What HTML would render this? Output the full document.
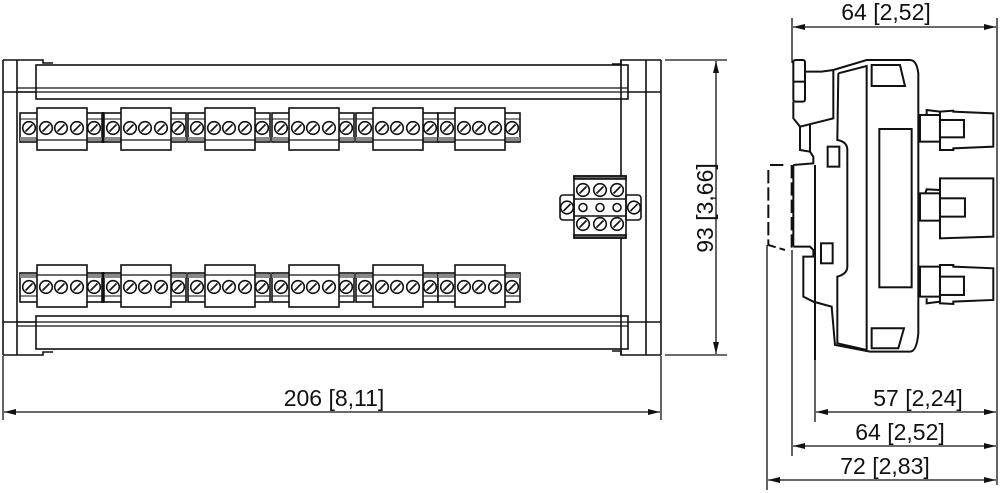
<!DOCTYPE html>
<html><head><meta charset="utf-8"><style>
html,body{margin:0;padding:0;background:#fff;width:1000px;height:493px;overflow:hidden}
svg{display:block}
text{font-family:"Liberation Sans",sans-serif;fill:#111}
</style></head><body>
<svg width="1000" height="493" viewBox="0 0 1000 493" xmlns="http://www.w3.org/2000/svg">
<defs>
<marker id="ar" viewBox="0 0 12 6" refX="12" refY="3" markerWidth="12" markerHeight="6" orient="auto-start-reverse" markerUnits="userSpaceOnUse"><path d="M0,0 L12,3 L0,6 z" fill="#111"/></marker>
<g id="scr"><circle r="6.3" fill="#fff" stroke="#111" stroke-width="1.6"/><line x1="-3.5" y1="3.5" x2="3.5" y2="-3.5" stroke="#111" stroke-width="1.6"/></g>
<g id="grpT">
 <rect x="0" y="113" width="82" height="29" fill="#fff" stroke="#111" stroke-width="1.6"/>
 <rect x="0" y="137" width="82" height="4" fill="#888"/>
 <line x1="0" y1="119" x2="82" y2="119" stroke="#111" stroke-width="1"/>
 <rect x="17" y="108" width="50" height="42" fill="#fff" stroke="#111" stroke-width="1.6"/>
 <line x1="17" y1="140" x2="67" y2="140" stroke="#111" stroke-width="1.2"/>
 <use href="#scr" x="9" y="128"/><use href="#scr" x="26" y="128"/><use href="#scr" x="41" y="128"/><use href="#scr" x="57" y="128"/><use href="#scr" x="74" y="128"/>
</g>
<g id="grpB">
 <rect x="0" y="273" width="82" height="29" fill="#fff" stroke="#111" stroke-width="1.6"/>
 <rect x="0" y="274" width="82" height="4" fill="#888"/>
 <line x1="0" y1="296" x2="82" y2="296" stroke="#111" stroke-width="1"/>
 <rect x="17" y="265" width="50" height="42" fill="#fff" stroke="#111" stroke-width="1.6"/>
 <line x1="17" y1="275" x2="67" y2="275" stroke="#111" stroke-width="1.2"/>
 <use href="#scr" x="9" y="287"/><use href="#scr" x="26" y="287"/><use href="#scr" x="41" y="287"/><use href="#scr" x="57" y="287"/><use href="#scr" x="74" y="287"/>
</g>
</defs>

<g fill="none" stroke="#111" stroke-width="1.6">
 <path d="M3,60 L43,60 L43,63 L53,63"/>
 <line x1="3" y1="60" x2="3" y2="355"/>
 <line x1="17" y1="60" x2="17" y2="355"/>
 <path d="M3,355 L43,355 L43,352 L53,352"/>
 <line x1="3" y1="92" x2="36" y2="92"/>
 <line x1="3" y1="322" x2="36" y2="322"/>
 <path d="M661,60 L621,60 L621,64 L612,64"/>
 <line x1="661" y1="60" x2="661" y2="355"/>
 <line x1="646" y1="60" x2="646" y2="355"/>
 <path d="M661,355 L621,355 L621,351 L612,351"/>
 <line x1="628" y1="92" x2="661" y2="92"/>
 <line x1="628" y1="322" x2="661" y2="322"/>
 <line x1="621" y1="60" x2="621" y2="355"/>
 <rect x="36" y="65" width="592" height="34"/>
 <line x1="17" y1="88" x2="628" y2="88" stroke-width="1.2"/>
 <line x1="17" y1="92" x2="628" y2="92" stroke-width="1.2"/>
 <rect x="36" y="316" width="592" height="33"/>
 <line x1="17" y1="322" x2="628" y2="322" stroke-width="1.2"/>
 <line x1="17" y1="326" x2="628" y2="326" stroke-width="1.2"/>
</g>

<use href="#grpT" x="20"/><use href="#grpT" x="104"/><use href="#grpT" x="188"/><use href="#grpT" x="272"/><use href="#grpT" x="356"/><use href="#grpT" x="438"/>
<use href="#grpB" x="20"/><use href="#grpB" x="104"/><use href="#grpB" x="188"/><use href="#grpB" x="272"/><use href="#grpB" x="356"/><use href="#grpB" x="438"/>
<g stroke="#111" stroke-width="2.5"><line x1="103" y1="112" x2="103" y2="143"/><line x1="103" y1="272" x2="103" y2="303"/></g>

<g stroke="#111" stroke-width="1.6" fill="#fff">
 <rect x="560" y="195" width="81" height="25" rx="3"/>
 <rect x="574" y="176" width="52" height="62"/>
 <rect x="574" y="176" width="52" height="3" fill="#666"/>
 <rect x="574" y="235" width="52" height="3" fill="#666"/>
 <line x1="574" y1="199" x2="626" y2="199"/><line x1="574" y1="216" x2="626" y2="216"/>
 <line x1="574" y1="195" x2="574" y2="220"/><line x1="626" y1="195" x2="626" y2="220"/>
 <circle cx="583" cy="207.5" r="4"/><circle cx="600" cy="207.5" r="4"/><circle cx="617" cy="207.5" r="4"/>
</g>
<use href="#scr" x="583" y="190"/><use href="#scr" x="600" y="190"/><use href="#scr" x="617" y="190"/>
<use href="#scr" x="583" y="224"/><use href="#scr" x="600" y="224"/><use href="#scr" x="617" y="224"/>
<use href="#scr" x="567" y="207.5"/><use href="#scr" x="634" y="207.5"/>

<g stroke="#111" stroke-width="1.3" fill="none">
 <line x1="665" y1="60" x2="727" y2="60"/><line x1="665" y1="355" x2="727" y2="355"/>
 <line x1="716" y1="61" x2="716" y2="354" marker-start="url(#ar)" marker-end="url(#ar)"/>
 <line x1="3" y1="356" x2="3" y2="420"/><line x1="661" y1="356" x2="661" y2="420"/>
 <line x1="4" y1="412" x2="660" y2="412" marker-start="url(#ar)" marker-end="url(#ar)"/>
</g>
<text x="334" y="406" font-size="23" text-anchor="middle">206 [8,11]</text>
<text transform="translate(713,208) rotate(-90)" font-size="23" text-anchor="middle">93 [3,66]</text>

<g transform="translate(760,50) scale(0.3333)" fill="none" stroke="#111" stroke-width="6">
 <rect x="100" y="30" width="35" height="125" rx="6"/>
 <line x1="100" y1="95" x2="135" y2="95"/>
 <path d="M135,65 L185,65 L220,60 L320,30 L450,30 Q470,30 475,70 L475,850 Q470,905 450,905 L330,905 L225,885 L215,770 L160,755 L130,740 L130,620 L160,620 L160,600 L150,590 L100,590"/>
 <path d="M100,155 L100,205 L120,230 L120,300 L150,305 L160,320 L160,340 L100,345"/>
 <path d="M120,230 L220,205 L220,60"/>
 <path d="M150,305 L150,225"/>
 <path d="M235,70 L320,48 L320,905 M235,70 L232,270 Q262,275 262,300 L262,650 Q262,672 232,680 L232,880 L320,900"/>
 <rect x="358" y="237" width="97" height="475"/>
 <path d="M335,45 L420,45 L435,108 L335,108 Z"/>
 <path d="M335,835 L432,835 L415,895 L335,895 Z"/>
 <rect x="203" y="290" width="35" height="60"/>
 <rect x="183" y="580" width="35" height="60"/>
 <line x1="100" y1="345" x2="100" y2="590"/>
 <line x1="165" y1="345" x2="165" y2="930"/>
 <path d="M30,345 L75,345 M25,360 L25,585 L75,600 M95,345 L95,600" stroke-dasharray="40,12"/>
 <rect x="480" y="195" width="60" height="80"/>
 <path d="M540,185 L500,180 L500,195 M540,185 L580,182 L580,185 L700,190 L700,290 L580,295 L580,300 L540,300 Z"/>
 <rect x="540" y="210" width="72" height="52"/>
 <rect x="480" y="430" width="60" height="82"/>
 <path d="M540,385 L700,385 L700,560 L540,565 Z M540,420 L500,418 L495,432"/>
 <rect x="540" y="445" width="75" height="55"/>
 <rect x="480" y="650" width="60" height="90"/>
 <path d="M540,645 L580,645 L580,650 L700,655 L700,750 L580,755 L580,762 L540,760 Z M540,755 L500,760 L500,745"/>
 <rect x="540" y="680" width="72" height="55"/>
</g>
<g stroke="#111" stroke-width="1.3" fill="none">
 <line x1="792" y1="18" x2="792" y2="63"/><line x1="997" y1="18" x2="997" y2="485"/>
 <line x1="793" y1="27" x2="996" y2="27" marker-start="url(#ar)" marker-end="url(#ar)"/>
 <line x1="767" y1="245" x2="767" y2="490"/>
 <line x1="792" y1="250" x2="792" y2="456"/>
 <line x1="815" y1="355" x2="815" y2="422"/>
 <line x1="816" y1="412" x2="996" y2="412" marker-start="url(#ar)" marker-end="url(#ar)"/>
 <line x1="793" y1="446" x2="996" y2="446" marker-start="url(#ar)" marker-end="url(#ar)"/>
 <line x1="768" y1="480" x2="996" y2="480" marker-start="url(#ar)" marker-end="url(#ar)"/>
</g>
<text x="886" y="20" font-size="23" text-anchor="middle">64 [2,52]</text>
<text x="918" y="406" font-size="23" text-anchor="middle">57 [2,24]</text>
<text x="900" y="440" font-size="23" text-anchor="middle">64 [2,52]</text>
<text x="885" y="474" font-size="23" text-anchor="middle">72 [2,83]</text>
</svg>
</body></html>
